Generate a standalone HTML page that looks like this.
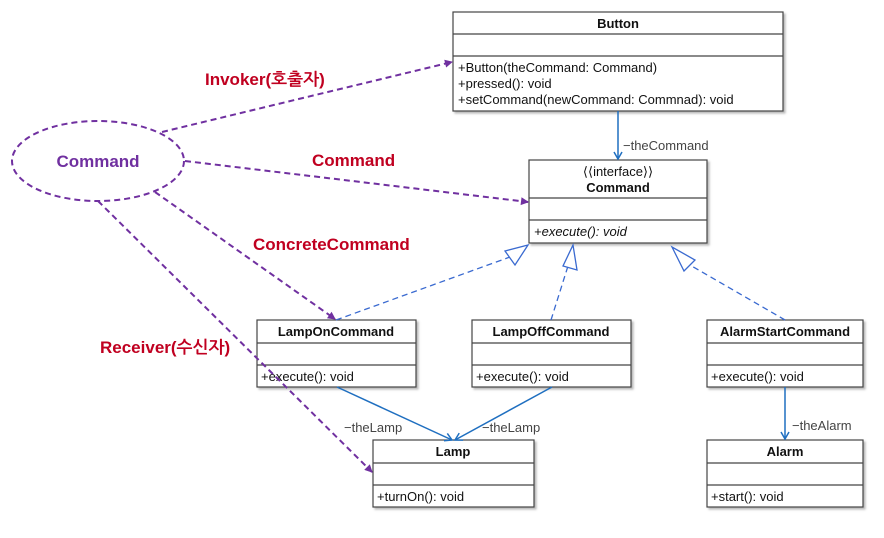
<!DOCTYPE html>
<html><head><meta charset="utf-8"><style>
html,body{margin:0;padding:0;background:#fff;}
svg text{font-family:"Liberation Sans","NanumGothic",sans-serif;}
</style></head><body>
<svg width="884" height="533" viewBox="0 0 884 533" xmlns="http://www.w3.org/2000/svg">
<defs>
<marker id="pa" markerWidth="10" markerHeight="10" refX="8" refY="5" orient="auto" markerUnits="userSpaceOnUse"><path d="M1,1 L9,5 L1,9 Z" fill="#7030a0"/></marker>
<marker id="ba" markerWidth="10" markerHeight="10" refX="8" refY="5" orient="auto" markerUnits="userSpaceOnUse"><path d="M1,1 L8,5 L1,9" fill="none" stroke="#1f6fc0" stroke-width="1.5"/></marker>
<filter id="sh"><feDropShadow dx="2" dy="2" stdDeviation="1" flood-color="#888" flood-opacity="0.6"/></filter>
</defs>
<g stroke="#444" stroke-width="1.2" fill="#fff">
<rect x="453" y="12" width="330" height="99" filter="url(#sh)"/>
<line x1="453" y1="34" x2="783" y2="34"/><line x1="453" y1="56" x2="783" y2="56"/>
<rect x="529" y="160" width="178" height="83" filter="url(#sh)"/>
<line x1="529" y1="198" x2="707" y2="198"/><line x1="529" y1="220" x2="707" y2="220"/>
<rect x="257" y="320" width="159" height="67" filter="url(#sh)"/>
<line x1="257" y1="343" x2="416" y2="343"/><line x1="257" y1="365" x2="416" y2="365"/>
<rect x="472" y="320" width="159" height="67" filter="url(#sh)"/>
<line x1="472" y1="343" x2="631" y2="343"/><line x1="472" y1="365" x2="631" y2="365"/>
<rect x="707" y="320" width="156" height="67" filter="url(#sh)"/>
<line x1="707" y1="343" x2="863" y2="343"/><line x1="707" y1="365" x2="863" y2="365"/>
<rect x="373" y="440" width="161" height="67" filter="url(#sh)"/>
<line x1="373" y1="463" x2="534" y2="463"/><line x1="373" y1="485" x2="534" y2="485"/>
<rect x="707" y="440" width="156" height="67" filter="url(#sh)"/>
<line x1="707" y1="463" x2="863" y2="463"/><line x1="707" y1="485" x2="863" y2="485"/>
</g>
<g font-size="13" fill="#111">
<text x="618" y="28" text-anchor="middle" font-weight="bold">Button</text>
<text x="458" y="72">+Button(theCommand: Command)</text>
<text x="458" y="88">+pressed(): void</text>
<text x="458" y="104">+setCommand(newCommand: Commnad): void</text>
<text x="618" y="176" text-anchor="middle">⟨⟨interface⟩⟩</text>
<text x="618" y="192" text-anchor="middle" font-weight="bold">Command</text>
<text x="534" y="236" font-style="italic">+execute(): void</text>
<text x="336" y="336" text-anchor="middle" font-weight="bold">LampOnCommand</text>
<text x="261" y="381">+execute(): void</text>
<text x="551" y="336" text-anchor="middle" font-weight="bold">LampOffCommand</text>
<text x="476" y="381">+execute(): void</text>
<text x="785" y="336" text-anchor="middle" font-weight="bold">AlarmStartCommand</text>
<text x="711" y="381">+execute(): void</text>
<text x="453" y="456" text-anchor="middle" font-weight="bold">Lamp</text>
<text x="377" y="501">+turnOn(): void</text>
<text x="785" y="456" text-anchor="middle" font-weight="bold">Alarm</text>
<text x="711" y="501">+start(): void</text>
<text x="623" y="150" fill="#444">−theCommand</text>
<text x="344" y="432" fill="#444">−theLamp</text>
<text x="482" y="432" fill="#444">−theLamp</text>
<text x="792" y="430" fill="#444">−theAlarm</text>
</g>
<g stroke="#1f6fc0" stroke-width="1.5" fill="none">
<line x1="618" y1="111" x2="618" y2="159" marker-end="url(#ba)"/>
<line x1="337" y1="387" x2="452" y2="440" marker-end="url(#ba)"/>
<line x1="552" y1="387" x2="455" y2="440" marker-end="url(#ba)"/>
<line x1="785" y1="387" x2="785" y2="439" marker-end="url(#ba)"/>
</g>
<g stroke="#3a6ad0" stroke-width="1.3" fill="none" stroke-dasharray="6,4">
<line x1="336" y1="320" x2="510" y2="257"/>
<line x1="551" y1="320" x2="568" y2="266"/>
<line x1="785" y1="320" x2="690" y2="265"/>
</g>
<g stroke="#3a6ad0" stroke-width="1.3" fill="#fff">
<path d="M528,245 L505,251 L515,265 Z"/>
<path d="M573,245 L563,266 L577,270 Z"/>
<path d="M672,247 L684,271 L695,260 Z"/>
</g>
<g stroke="#7030a0" stroke-width="2" fill="none" stroke-dasharray="6,4">
<ellipse cx="98" cy="161" rx="86" ry="40"/>
<line x1="162" y1="132" x2="452" y2="62" marker-end="url(#pa)"/>
<line x1="185" y1="161" x2="528" y2="202" marker-end="url(#pa)"/>
<line x1="155" y1="192" x2="335" y2="319" marker-end="url(#pa)"/>
<line x1="98" y1="201" x2="372" y2="472" marker-end="url(#pa)"/>
</g>
<text x="98" y="167" text-anchor="middle" font-size="17" font-weight="bold" fill="#7030a0" font-family="Liberation Sans,sans-serif">Command</text>
<g font-size="17" font-weight="bold" fill="#c00020" font-family="Liberation Sans,NanumGothic,sans-serif">
<text x="205" y="85">Invoker(호출자)</text>
<text x="312" y="166">Command</text>
<text x="253" y="250">ConcreteCommand</text>
<text x="100" y="353">Receiver(수신자)</text>
</g>
</svg>
</body></html>
